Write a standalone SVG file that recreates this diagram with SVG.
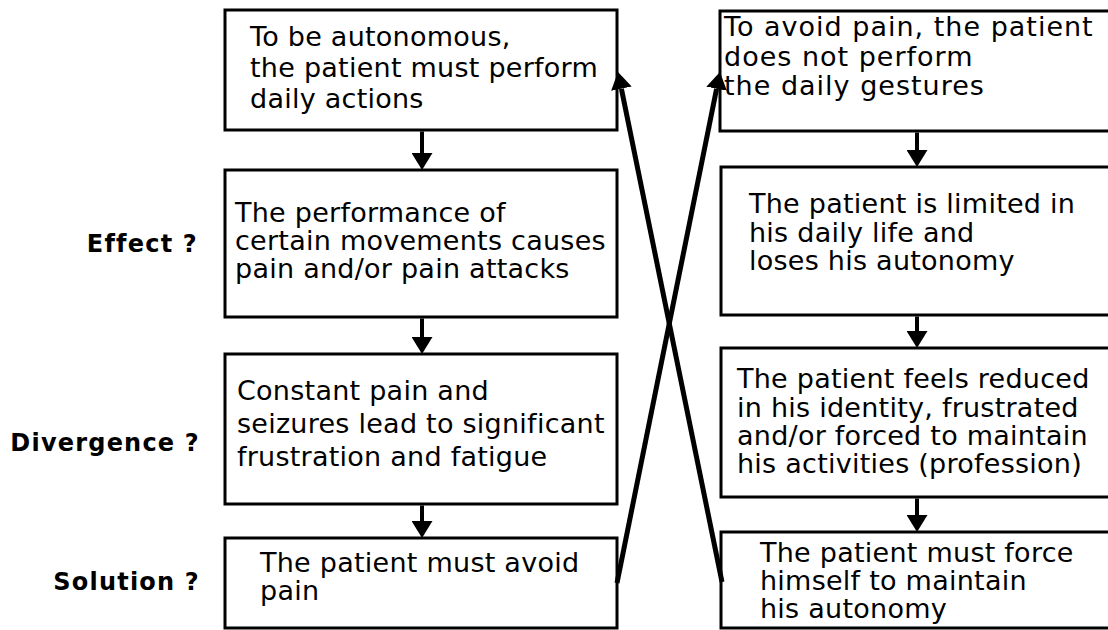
<svg xmlns="http://www.w3.org/2000/svg" width="1108" height="630" viewBox="0 0 1108 630">
<defs>
<marker id="ah" markerUnits="userSpaceOnUse" markerWidth="17" markerHeight="21" viewBox="0 0 17 21" refX="0" refY="10.5" orient="auto">
<path d="M0,0 L17,10.5 L0,21 z" fill="#000"/>
</marker>
<style>
.box{fill:#fff;stroke:#000;stroke-width:3}
.t{font-family:"DejaVu Sans",Verdana,sans-serif;font-size:27px;fill:#000;letter-spacing:0.25px}
.w{letter-spacing:1px}
.lbl{font-family:"DejaVu Sans",Verdana,sans-serif;font-size:24px;font-weight:bold;fill:#000;text-anchor:end;letter-spacing:1.2px}
.v{stroke:#000;stroke-width:4;fill:none}
.d{stroke:#000;stroke-width:5;fill:none}
</style>
</defs>
<rect width="1108" height="630" fill="#fff"/>

<g id="label-effect"><text class="lbl" x="198" y="252">Effect ?</text></g>
<g id="label-divergence"><text class="lbl" x="200" y="451">Divergence ?</text></g>
<g id="label-solution"><text class="lbl" x="200" y="590">Solution ?</text></g>

<g id="L1">
<rect class="box" x="225" y="10" width="392" height="120"/>
<text class="t" x="250" y="46">To be autonomous,</text>
<text class="t" x="250" y="77">the patient must perform</text>
<text class="t" x="250" y="108">daily actions</text>
</g>
<g id="L2">
<rect class="box" x="225" y="170" width="392" height="147"/>
<text class="t" x="235" y="222">The performance of</text>
<text class="t" x="235" y="250">certain movements causes</text>
<text class="t" x="235" y="278">pain and/or pain attacks</text>
</g>
<g id="L3">
<rect class="box" x="225" y="354" width="392" height="150"/>
<text class="t" x="237" y="400">Constant pain and</text>
<text class="t" x="237" y="433">seizures lead to significant</text>
<text class="t" x="237" y="466">frustration and fatigue</text>
</g>
<g id="L4">
<rect class="box" x="225" y="538" width="392" height="90"/>
<text class="t" x="260" y="572">The patient must avoid</text>
<text class="t" x="260" y="600">pain</text>
</g>

<g id="R1">
<rect class="box" x="720" y="11" width="400" height="120"/>
<text class="t w" x="724" y="36">To avoid pain, the patient</text>
<text class="t w" x="724" y="66">does not perform</text>
<text class="t w" x="724" y="95">the daily gestures</text>
</g>
<g id="R2">
<rect class="box" x="721" y="167" width="400" height="148"/>
<text class="t" x="749" y="213">The patient is limited in</text>
<text class="t" x="749" y="242">his daily life and</text>
<text class="t" x="749" y="270">loses his autonomy</text>
</g>
<g id="R3">
<rect class="box" x="721" y="348" width="400" height="149"/>
<text class="t" x="737" y="388">The patient feels reduced</text>
<text class="t" x="737" y="417">in his identity, frustrated</text>
<text class="t" x="737" y="445">and/or forced to maintain</text>
<text class="t" x="737" y="473">his activities (profession)</text>
</g>
<g id="R4">
<rect class="box" x="721" y="532" width="400" height="96"/>
<text class="t" x="760" y="562">The patient must force</text>
<text class="t" x="760" y="590">himself to maintain</text>
<text class="t" x="760" y="618">his autonomy</text>
</g>

<g id="connectors">
<line class="v" x1="422" y1="131.5" x2="422" y2="153" marker-end="url(#ah)"/>
<line class="v" x1="422" y1="318.5" x2="422" y2="337" marker-end="url(#ah)"/>
<line class="v" x1="422" y1="505.5" x2="422" y2="521" marker-end="url(#ah)"/>
<line class="v" x1="917" y1="132.5" x2="917" y2="150" marker-end="url(#ah)"/>
<line class="v" x1="917" y1="316.5" x2="917" y2="331" marker-end="url(#ah)"/>
<line class="v" x1="917" y1="498.5" x2="917" y2="515" marker-end="url(#ah)"/>
<line class="d" x1="617" y1="583" x2="716.6" y2="88.7" marker-end="url(#ah)"/>
<line class="d" x1="722" y1="582" x2="621.4" y2="88.7" marker-end="url(#ah)"/>
</g>
</svg>
